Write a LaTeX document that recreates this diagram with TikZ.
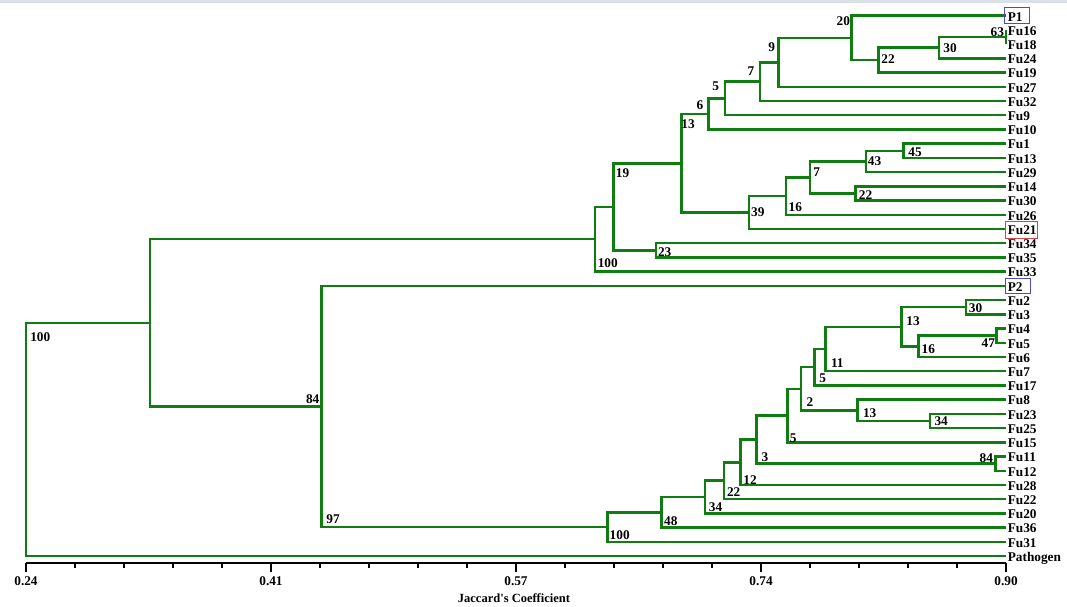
\documentclass[tikz,border=0pt]{standalone}
\usepackage{fontspec}
\setmainfont{Liberation Serif}
\definecolor{tree}{RGB}{15,125,15}
\definecolor{boxblue}{RGB}{75,75,200}
\definecolor{boxred}{RGB}{215,70,70}
\definecolor{topbar}{RGB}{218,224,232}
\newcommand\Y[1]{15.7+14.22*(#1)}
\newcommand\jn[3]{\draw[br] (#2) -| (#1) |- (#3);}
\begin{document}
\begin{tikzpicture}[x=1pt,y=-1pt,
  br/.style={draw=tree, line width=2.5pt},
  leaf/.style={anchor=base west, inner xsep=1.6pt, inner ysep=0pt, font=\fontsize{13.3}{15}\selectfont\bfseries},
  boot/.style={inner sep=0pt, font=\fontsize{13.3}{15}\selectfont\bfseries},
  axisline/.style={draw=black, line width=1.4pt},
  ticks/.style={draw=black, line width=1.8pt},
  lbox/.style={line width=0.9pt}]
\useasboundingbox (0,0) rectangle (1067,606);
\fill[topbar] (0,0) rectangle (1067,2.6);

% leaves
\foreach \n [count=\i from 0] in {P1,Fu16,Fu18,Fu24,Fu19,Fu27,Fu32,Fu9,Fu10,Fu1,Fu13,Fu29,Fu14,Fu30,Fu26,Fu21,Fu34,Fu35,Fu33,P2,Fu2,Fu3,Fu4,Fu5,Fu6,Fu7,Fu17,Fu8,Fu23,Fu25,Fu15,Fu11,Fu12,Fu28,Fu22,Fu20,Fu36,Fu31,Pathogen}{
  \coordinate (L-\n) at (1006,{\Y{\i}});
  \node[leaf] (T-\n) at (1006,{\Y{\i}+5.3}) {\n};
}

% internal nodes (upper cluster)
\coordinate (n63) at (1006,{\Y{1.5}});
\coordinate (n30u) at (939,{\Y{2.25}});
\coordinate (n22u) at (878.3,{\Y{3.125}});
\coordinate (n20) at (851.7,{\Y{1.5625}});
\coordinate (n9) at (778.3,{\Y{3.28125}});
\coordinate (n7u) at (760,{\Y{4.640625}});
\coordinate (n5u) at (725,{\Y{5.8203}});
\coordinate (n6) at (708.3,{\Y{6.9102}});
\coordinate (n45) at (903.3,{\Y{9.5}});
\coordinate (n43) at (866,{\Y{10.25}});
\coordinate (n22m) at (855.3,{\Y{12.5}});
\coordinate (n7m) at (810,{\Y{11.375}});
\coordinate (n16u) at (786,{\Y{12.6875}});
\coordinate (n39) at (749,{\Y{13.84375}});
\coordinate (n13u) at (681.7,{\Y{10.377}});
\coordinate (n23) at (656,{\Y{16.5}});
\coordinate (n19) at (613.3,{\Y{13.4385}});
\coordinate (n100u) at (595,{\Y{15.719}});
% lower cluster
\coordinate (n30l) at (966,{\Y{20.5}});
\coordinate (n47) at (996.7,{\Y{22.5}});
\coordinate (n16l) at (918.7,{\Y{23.25}});
\coordinate (n13l) at (901.7,{\Y{21.875}});
\coordinate (n11) at (825.7,{\Y{23.4375}});
\coordinate (n5a) at (814.3,{\Y{24.71875}});
\coordinate (n34m) at (930,{\Y{28.5}});
\coordinate (n13m) at (857.3,{\Y{27.75}});
\coordinate (n2) at (801,{\Y{26.234}});
\coordinate (n5b) at (787.3,{\Y{28.117}});
\coordinate (n84s) at (995.7,{\Y{31.5}});
\coordinate (n3) at (756.7,{\Y{29.809}});
\coordinate (n12) at (740.7,{\Y{31.404}});
\coordinate (n22l) at (724,{\Y{32.702}});
\coordinate (n34b) at (705,{\Y{33.851}});
\coordinate (n48) at (661.7,{\Y{34.926}});
\coordinate (n100l) at (607.3,{\Y{35.963}});
\coordinate (n84) at (321.7,{\Y{27.48}});
\coordinate (n150) at (150,{\Y{21.6}});
\coordinate (root) at (26,{\Y{29.8}});

% connectors
\jn{n63}{L-Fu16}{L-Fu18}
\jn{n30u}{n63}{L-Fu24}
\jn{n22u}{n30u}{L-Fu19}
\jn{n20}{L-P1}{n22u}
\jn{n9}{n20}{L-Fu27}
\jn{n7u}{n9}{L-Fu32}
\jn{n5u}{n7u}{L-Fu9}
\jn{n6}{n5u}{L-Fu10}
\jn{n45}{L-Fu1}{L-Fu13}
\jn{n43}{n45}{L-Fu29}
\jn{n22m}{L-Fu14}{L-Fu30}
\jn{n7m}{n43}{n22m}
\jn{n16u}{n7m}{L-Fu26}
\jn{n39}{n16u}{L-Fu21}
\jn{n13u}{n6}{n39}
\jn{n23}{L-Fu34}{L-Fu35}
\jn{n19}{n13u}{n23}
\jn{n100u}{n19}{L-Fu33}
\jn{n30l}{L-Fu2}{L-Fu3}
\jn{n47}{L-Fu4}{L-Fu5}
\jn{n16l}{n47}{L-Fu6}
\jn{n13l}{n30l}{n16l}
\jn{n11}{n13l}{L-Fu7}
\jn{n5a}{n11}{L-Fu17}
\jn{n34m}{L-Fu23}{L-Fu25}
\jn{n13m}{L-Fu8}{n34m}
\jn{n2}{n5a}{n13m}
\jn{n5b}{n2}{L-Fu15}
\jn{n84s}{L-Fu11}{L-Fu12}
\jn{n3}{n5b}{n84s}
\jn{n12}{n3}{L-Fu28}
\jn{n22l}{n12}{L-Fu22}
\jn{n34b}{n22l}{L-Fu20}
\jn{n48}{n34b}{L-Fu36}
\jn{n100l}{n48}{L-Fu31}
\jn{n84}{L-P2}{n100l}
\jn{n150}{n100u}{n84}
\jn{root}{n150}{L-Pathogen}

% bootstrap labels
\node[boot] (b20) at (843.3,21) {20};
\node[boot] (b63) at (997.3,31.7) {63};
\node[boot] (b30u) at (950,48) {30};
\node[boot] (b22u) at (888,59.5) {22};
\node[boot] (b9) at (771.7,47.5) {9};
\node[boot] (b7u) at (751,71) {7};
\node[boot] (b5u) at (715.7,86) {5};
\node[boot] (b6) at (700,105) {6};
\node[boot] (b13u) at (688,124) {13};
\node[boot] (b45) at (915,151.7) {45};
\node[boot] (b43) at (874.5,161.3) {43};
\node[boot] (b7m) at (816.7,172.3) {7};
\node[boot] (b22m) at (865.5,195.3) {22};
\node[boot] (b16u) at (795.3,207.3) {16};
\node[boot] (b39) at (757.8,212.5) {39};
\node[boot] (b19) at (622.5,172.8) {19};
\node[boot] (b23) at (664.7,251.7) {23};
\node[boot] (b100u) at (607.8,262.8) {100};
\node[boot] (b30l) at (975.5,308.3) {30};
\node[boot] (b13l) at (913,320.7) {13};
\node[boot] (b47) at (988.3,343.3) {47};
\node[boot] (b16l) at (928.3,348.7) {16};
\node[boot] (b11) at (837.3,362.8) {11};
\node[boot] (b5a) at (822.7,378) {5};
\node[boot] (b2) at (810,402.3) {2};
\node[boot] (b13m) at (869.7,412.8) {13};
\node[boot] (b34m) at (941.2,421.3) {34};
\node[boot] (b5b) at (793.3,438) {5};
\node[boot] (b3) at (765,457.3) {3};
\node[boot] (b84s) at (986.3,458.3) {84};
\node[boot] (b12) at (750,480) {12};
\node[boot] (b22l) at (733.7,492) {22};
\node[boot] (b34b) at (715.5,507) {34};
\node[boot] (b48) at (670.8,521.3) {48};
\node[boot] (b100l) at (619.7,535.3) {100};
\node[boot] (broot) at (40.3,336.7) {100};
\node[boot] (b84) at (312.7,399) {84};
\node[boot] (b97) at (333,519) {97};

% highlight boxes
\draw[lbox, boxblue] (1004.5,7.5) rectangle (1029.5,23.5);
\draw[lbox, boxred] (1005.5,221.5) rectangle (1037.5,238.3);
\draw[lbox, boxblue] (1005.5,278.5) rectangle (1030,293.5);

% axis
\draw[axisline] (26,563) -- (1006,563);
\foreach \k in {0,...,20}{\draw[ticks] ({26+49*\k},563) -- ++(0,5);}
\foreach \k/\t in {0/0.24,1/0.41,2/0.57,3/0.74,4/0.90}{
  \draw[ticks] ({26+245*\k},563) -- ++(0,8.5);
  \node[boot] (ax\k) at ({26+245*\k},581) {\t};
}
\node[inner sep=0pt, font=\fontsize{12.5}{14}\selectfont\bfseries] (axtitle) at (514,598) {Jaccard\textquotesingle s Coefficient};
\end{tikzpicture}
\end{document}
